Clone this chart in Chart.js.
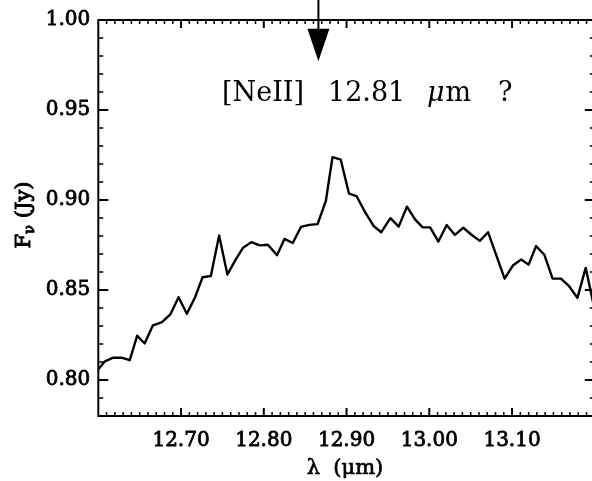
<!DOCTYPE html>
<html>
<head>
<meta charset="utf-8">
<script src="https://cdn.jsdelivr.net/npm/chart.js@4.4.1/dist/chart.umd.min.js"></script>
<style>
  html, body { margin: 0; padding: 0; background: #fff; overflow: hidden; }
  #wrap { width: 600px; height: 481px; }
</style>
</head>
<body>
<div id="wrap"><canvas id="spec" width="600" height="481"></canvas></div>
<script>
// Spectrum around the [NeII] line: wavelength (micron) and flux density (Jy)
const wavelength = [
  12.598, 12.608, 12.618, 12.628, 12.638, 12.647, 12.656, 12.666, 12.677, 12.687,
  12.697, 12.707, 12.717, 12.726, 12.736, 12.746, 12.756, 12.766, 12.775, 12.785,
  12.795, 12.805, 12.816, 12.825, 12.835, 12.845, 12.855, 12.865, 12.875, 12.883,
  12.893, 12.903, 12.912, 12.923, 12.933, 12.942, 12.953, 12.963, 12.973, 12.983,
  12.992, 13.001, 13.011, 13.021, 13.031, 13.041, 13.051, 13.061, 13.071, 13.081,
  13.091, 13.101, 13.111, 13.120, 13.129, 13.139, 13.149, 13.159, 13.169, 13.179,
  13.189, 13.199
];
const fluxDensity = [
  0.8049, 0.8104, 0.8124, 0.8124, 0.8110, 0.8246, 0.8203, 0.8304, 0.8321, 0.8364,
  0.8460, 0.8368, 0.8460, 0.8571, 0.8578, 0.8803, 0.8586, 0.8669, 0.8735, 0.8766,
  0.8748, 0.8751, 0.8693, 0.8784, 0.8761, 0.8851, 0.8862, 0.8866, 0.8995, 0.9238,
  0.9224, 0.9035, 0.9022, 0.8928, 0.8854, 0.8821, 0.8899, 0.8852, 0.8963, 0.8891,
  0.8848, 0.8848, 0.8769, 0.8861, 0.8806, 0.8846, 0.8807, 0.8773, 0.8821, 0.8692,
  0.8563, 0.8636, 0.8669, 0.8641, 0.8744, 0.8696, 0.8563, 0.8563, 0.8521, 0.8456,
  0.8623, 0.8409
];

// Axis ranges and labelled ticks
const X_MIN = 12.60, X_MAX = 13.20;
const Y_MIN = 0.78, Y_MAX = 1.00;
const xTickValues = [12.70, 12.80, 12.90, 13.00, 13.10];
const yTickValues = [0.80, 0.85, 0.90, 0.95, 1.00];

// Line marker: arrow position (micron) and arrow head extent (Jy)
const ARROW_LAMBDA = 12.866;
const ARROW_HEAD_TOP = 0.9952;
const ARROW_HEAD_TIP = 0.9771;

const SERIF = '"DejaVu Serif", "Liberation Serif", serif';

// text filled and lightly stroked, for the heavier axis lettering
function heavyText(ctx, s, x, y, w) {
  ctx.lineWidth = w;
  ctx.strokeText(s, x, y);
  ctx.fillText(s, x, y);
}

// IDL-style box with inward ticks on all four sides
const boxTicks = {
  id: 'boxTicks',
  afterDatasetsDraw(chart) {
    const { ctx, chartArea: a, scales: { x, y } } = chart;
    ctx.save();
    ctx.strokeStyle = '#000';
    ctx.lineWidth = 2;
    ctx.strokeRect(a.left, a.top, a.right - a.left, a.bottom - a.top);

    const nx = Math.round((X_MAX - X_MIN) / 0.01);
    for (let i = 1; i < nx; i++) {
      const px = x.getPixelForValue(X_MIN + i * 0.01);
      const major = i % 10 === 0;
      const len = major ? 8 : 4;
      ctx.lineWidth = major ? 2 : 1.5;
      ctx.beginPath();
      ctx.moveTo(px, a.bottom); ctx.lineTo(px, a.bottom - len);
      ctx.moveTo(px, a.top); ctx.lineTo(px, a.top + len);
      ctx.stroke();
    }
    const ny = Math.round((Y_MAX - Y_MIN) / 0.01);
    for (let i = 1; i < ny; i++) {
      const py = y.getPixelForValue(Y_MIN + i * 0.01);
      const major = i % 5 === 2;
      const len = major ? 10 : 5;
      ctx.lineWidth = major ? 2 : 1.5;
      ctx.beginPath();
      ctx.moveTo(a.left, py); ctx.lineTo(a.left + len, py);
      ctx.moveTo(a.right, py); ctx.lineTo(a.right - len, py);
      ctx.stroke();
    }
    ctx.restore();
  }
};

// Axis titles, line marker arrow and its label
const annotations = {
  id: 'annotations',
  afterDraw(chart) {
    const { ctx, scales: { x, y } } = chart;
    ctx.save();
    ctx.fillStyle = '#000';
    ctx.strokeStyle = '#000';
    ctx.lineJoin = 'round';
    ctx.textBaseline = 'alphabetic';

    // x title
    ctx.font = '21px ' + SERIF;
    ctx.textAlign = 'center';
    heavyText(ctx, '\u03BB  (\u03BCm)', 345, 474, 0.7);

    // y title, rotated, with subscript nu
    ctx.save();
    ctx.translate(30, 215);
    ctx.rotate(-Math.PI / 2);
    ctx.textAlign = 'left';
    const big = '21px ' + SERIF, small = '15px ' + SERIF;
    ctx.font = big;
    const wF = ctx.measureText('F').width;
    ctx.font = small;
    const wNu = ctx.measureText('\u03BD').width;
    ctx.font = big;
    const wRest = ctx.measureText(' (Jy)').width;
    let tx = -(wF + wNu + wRest) / 2;
    heavyText(ctx, 'F', tx, 0, 1); tx += wF;
    ctx.font = small;
    heavyText(ctx, '\u03BD', tx, 4, 1); tx += wNu;
    ctx.font = big;
    heavyText(ctx, ' (Jy)', tx, 0, 1);
    ctx.restore();

    // arrow marking the line position
    const ax = x.getPixelForValue(ARROW_LAMBDA);
    const yHead = y.getPixelForValue(ARROW_HEAD_TOP);
    const yTip = y.getPixelForValue(ARROW_HEAD_TIP);
    ctx.lineWidth = 2;
    ctx.beginPath();
    ctx.moveTo(ax, 0); ctx.lineTo(ax, yHead + 1);
    ctx.stroke();
    ctx.beginPath();
    ctx.moveTo(ax - 11, yHead); ctx.lineTo(ax + 11, yHead); ctx.lineTo(ax, yTip);
    ctx.closePath();
    ctx.fill();

    // line label
    ctx.textAlign = 'left';
    const base = 101;
    ctx.font = '27px ' + SERIF;
    ctx.fillText('[NeII]', 222, base);
    ctx.fillText('12.81', 328, base);
    ctx.font = 'italic 27px ' + SERIF;
    ctx.fillText('\u03BC', 427, base);
    const wMu = ctx.measureText('\u03BC').width;
    ctx.font = '27px ' + SERIF;
    ctx.fillText('m', 428 + wMu, base);
    ctx.fillText('?', 498, base);
    ctx.restore();
  }
};

const points = wavelength.map((w, i) => ({ x: w, y: fluxDensity[i] }));

new Chart(document.getElementById('spec'), {
  type: 'line',
  data: {
    datasets: [{
      data: points,
      borderColor: '#000',
      borderWidth: 2.4,
      borderJoinStyle: 'round',
      pointRadius: 0,
      tension: 0,
      fill: false
    }]
  },
  options: {
    responsive: false,
    animation: false,
    devicePixelRatio: 1,
    layout: { padding: { left: 0, right: 5.2, top: 15.3, bottom: 0 } },
    plugins: { legend: { display: false }, tooltip: { enabled: false } },
    scales: {
      x: {
        type: 'linear',
        min: X_MIN, max: X_MAX,
        grid: { display: false, drawTicks: false },
        border: { display: false },
        afterBuildTicks: s => { s.ticks = xTickValues.map(v => ({ value: v })); },
        afterFit: s => { s.height = 65; },
        ticks: {
          autoSkip: false, maxRotation: 0, padding: 13,
          color: '#000',
          textStrokeColor: '#000',
          textStrokeWidth: 0.8,
          font: { family: SERIF, size: 20 },
          callback: v => v.toFixed(2)
        }
      },
      y: {
        type: 'linear',
        min: Y_MIN, max: Y_MAX,
        grid: { display: false, drawTicks: false },
        border: { display: false },
        afterBuildTicks: s => { s.ticks = yTickValues.map(v => ({ value: v })); },
        afterFit: s => { s.width = 98.3; },
        ticks: {
          autoSkip: false, padding: 8,
          color: '#000',
          textStrokeColor: '#000',
          textStrokeWidth: 0.8,
          font: { family: SERIF, size: 20 },
          callback: v => v.toFixed(2)
        }
      }
    }
  },
  plugins: [boxTicks, annotations]
});
</script>
</body>
</html>
